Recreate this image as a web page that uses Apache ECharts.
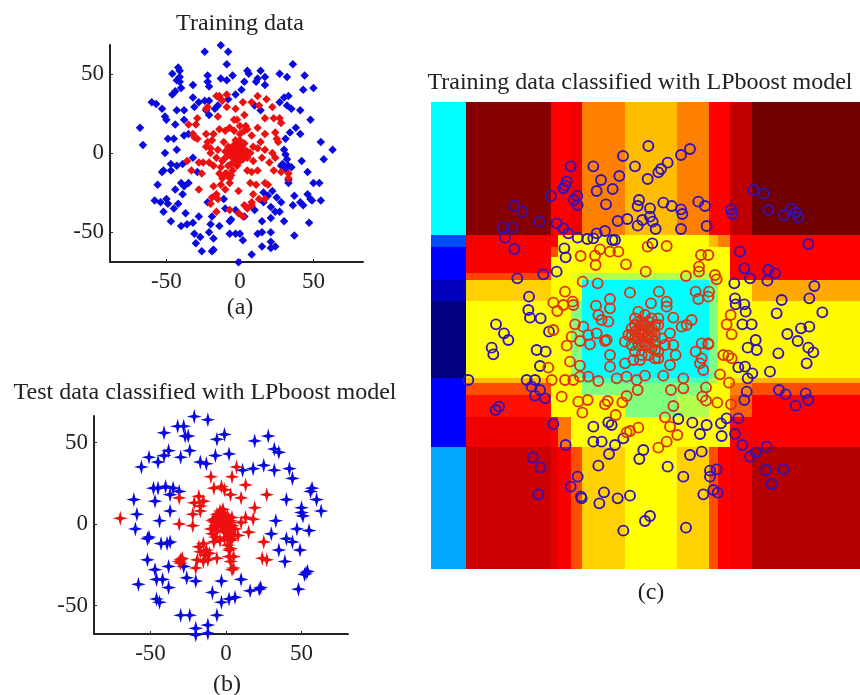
<!DOCTYPE html>
<html><head><meta charset="utf-8">
<style>html,body{margin:0;padding:0;background:#fff}#c{width:860px;height:695px;filter:blur(0.45px)}</style>
<script src="https://cdn.jsdelivr.net/npm/echarts@6/dist/echarts.min.js"></script>
</head><body><div id="c"></div>
<script>
const tickValues=[-50,0,50];
const aBlue=[[-13,68],[-24,64],[-8,64],[-9,56],[-1,-69],[36,56],[44,49],[50,41],[43,40],[32,48],[27,50],[5,52],[6,50],[14,52],[12,47],[11,45],[17,48],[17,43],[3,45],[1,40],[-5,49],[-9,46],[-13,47],[-22,49],[-22,45],[-21,42],[-32,43],[-42,54],[-41,52],[-46,50],[-41,48],[-43,46],[-41,45],[-40,41],[-44,39],[-46,37],[-3,37],[-32,35],[-60,32],[-57,31],[-53,28],[-31,29],[-28,32],[-24,33],[-21,33],[-23,27],[-15,30],[-17,28],[-14,35],[-8,34],[-43,27],[-38,27],[-51,23],[-50,21],[-44,18],[-38,21],[-21,24],[-68,16],[-66,5],[-49,9],[-45,9],[-38,11],[-35,12],[-51,0],[-43,2],[-32,-3],[-47,-7],[-43,-8],[-39,-7],[-52,-11],[-53,-12],[-47,-11],[-29,-12],[-56,-20],[-40,-19],[-35,-19],[-38,-21],[-44,-23],[-39,-26],[-58,-30],[-54,-31],[-50,-29],[-49,-32],[-42,-32],[-52,-37],[-45,-35],[-37,-38],[-47,-43],[-40,-46],[-36,-45],[-32,-44],[-28,-40],[-19,-40],[-22,-31],[-20,-45],[-14,-46],[-7,-43],[-6,-42],[-31,-51],[-27,-53],[-30,-57],[-21,-50],[-18,-54],[-26,-62],[-19,-62],[-18,-61],[-7,-51],[-3,-51],[0,-51],[2,-55],[-11,-29],[-10,-35],[-3,-36],[3,-40],[10,-36],[12,-51],[15,-50],[15,-59],[8,-64],[21,-56],[21,-60],[24,-59],[21,-50],[15,-43],[21,-41],[30,-43],[37,-52],[47,-44],[36,-33],[37,-27],[41,-31],[43,-33],[46,-26],[48,-29],[49,-30],[55,-30],[50,-19],[54,-19],[46,-12],[42,-5],[57,-4],[63,2],[55,7],[48,21],[41,12],[38,16],[34,13],[31,9],[41,27],[35,28],[33,36],[30,35],[27,32],[32,30],[14,27],[10,30],[22,-24],[16,-25],[19,-27],[25,-28],[28,-31],[21,-34],[24,-37],[27,-37],[16,-31],[33,-19],[33,-17],[30,2],[31,-1],[32,-4],[29,-7],[28,-8],[33,-8],[35,-9],[31,-10]];
const aRed=[[-14,36],[-16,36],[-9,37],[-12,33],[-22,29],[-23,28],[-9,29],[-3,28],[2,32],[8,32],[12,36],[18,34],[13,30],[22,29],[17,22],[23,22],[27,22],[28,19],[-29,22],[-35,18],[-30,18],[-15,23],[-4,21],[3,24],[-2,21],[4,17],[-10,14],[-4,14],[0,17],[3,14],[5,15],[0,12],[-7,16],[8,11],[12,16],[17,12],[24,13],[25,9],[26,7],[-32,12],[-31,10],[-29,9],[-23,12],[-22,7],[-18,12],[-14,15],[-19,8],[-11,7],[-23,4],[-20,3],[-15,2],[-20,0],[-16,-3],[14,7],[9,4],[17,2],[-8,4],[-6,1],[-4,5],[-2,3],[0,1],[1,-1],[3,2],[-1,-3],[-3,-4],[-5,-3],[-2,-6],[0,-5],[2,-4],[4,-2],[5,1],[-4,-1],[-1,5],[1,4],[-7,-1],[-9,-2],[-10,1],[3,6],[0,8],[-3,8],[7,0],[-2,-8],[-6,-7],[-3,1],[-1,1],[1,2],[-2,-1],[-5,2],[-7,3],[-4,-6],[-36,-5],[-28,-6],[-33,-11],[-25,-6],[-21,-6],[-26,-13],[-13,-9],[-18,-8],[-9,-13],[-7,-16],[-7,-19],[-10,-13],[-5,-11],[-2,-7],[5,-3],[9,-5],[15,-3],[20,-6],[5,-11],[8,-12],[12,-11],[24,-3],[22,0],[23,-11],[28,-12],[33,-13],[33,-16],[-28,-23],[-18,-21],[-13,-20],[-10,-23],[-16,-26],[-19,-28],[-15,-29],[-20,-32],[-16,-37],[-7,-36],[-1,-24],[7,-19],[11,-20],[17,-19],[19,-20],[9,-26],[8,-31],[13,-29],[17,-29],[8,-33],[3,-33],[5,-35],[-1,-38],[2,-40],[-12,-5],[-8,-8],[-6,-14],[-12,-16],[12,3],[-11,-4],[-14,-13]];
const bBlue=[[-21,66],[-12,64],[-32,60],[-28,60],[-41,56],[-27,54],[-25,54],[-6,52],[-1,55],[19,51],[28,54],[32,46],[35,44],[-24,45],[-38,45],[-41,42],[-51,41],[-45,38],[-56,35],[-30,41],[-17,38],[-13,37],[-7,42],[2,43],[11,33],[18,34],[25,36],[32,33],[42,34],[44,28],[57,22],[56,20],[60,15],[63,8],[40,15],[50,10],[50,7],[51,5],[33,2],[47,-3],[55,-4],[30,-6],[40,-9],[44,-11],[35,-16],[49,-16],[39,-23],[53,-30],[52,-31],[54,-29],[48,-40],[23,-39],[22,-40],[16,-41],[10,-34],[6,-45],[2,-46],[-3,-48],[-9,-42],[-3,-35],[-6,-56],[-12,-62],[-12,-67],[-20,-64],[-20,-68],[-24,-56],[-30,-56],[-44,-48],[-46,-46],[-38,-39],[-42,-34],[-46,-34],[-58,-37],[-26,-33],[-20,-35],[-47,-28],[-52,-22],[-38,-26],[-28,-26],[-51,-8],[-52,-9],[-43,-12],[-39,-12],[-37,-11],[-60,-3],[-59,6],[-44,2],[-37,8],[-61,15],[-47,14],[-48,22],[-45,22],[-40,23],[-35,22],[-31,20],[-37,18]];
const bRed=[[-70,3.5],[7,35],[4,29],[-10,29],[13,24],[-8,22],[-3,23],[-1,21],[3,18],[10,16],[27,18],[-31,16],[-18,17],[-21,13],[-15,14],[-17,8],[-22,6],[-22,-1],[-31,0],[19,10],[18,3],[13,4],[10,1],[15,-5],[25,-11],[24,-21],[27,-22],[-8,3],[-6,6],[-4,8],[-2,5],[0,3],[2,1],[-5,1],[-3,-1],[-1,0],[1,-2],[3,-3],[-7,-1],[-9,2],[4,4],[-2,9],[-1,-5],[2,-6],[5,-7],[-9,-6],[-7,-8],[-4,-10],[3,-10],[1,-13],[8,-7],[-30,-22],[-31,-23],[-29,-21],[-30,-24],[-15,-12],[-17,-17],[-13,-16],[-12,-22],[-6,-21],[-20,-27],[-15,-23],[2,-16],[5,-20],[3,-23],[4,-28],[5,-27],[-17,11],[-14,-19],[2,-20],[-4,4],[-1,6],[1,5],[3,2],[-6,-2],[-3,2],[0,-3],[-2,-2],[2,-4],[4,-1],[-5,4],[-7,1],[-3,7],[0,1],[-10,-3],[-6,-4],[6,-3],[4,-9],[-1,-9],[-8,-11],[1,-8],[3,-15],[-18,-14],[-11,-18],[-19,-22]];
const cBlue=[[1,56.7],[13.5,55.8],[10.8,54],[-6.6,53.7],[-3,50.6],[-15.5,50.6],[-22.3,50.6],[6.8,51.7],[4.8,49.8],[4,48.8],[0.8,46.8],[-7.7,47.7],[-13.2,46.5],[-14.5,43.2],[-9.7,43.8],[-23.5,46],[-24,44.8],[-24.5,44],[-28.2,41.7],[-20.3,41.7],[-21.3,40.5],[-20.2,39],[-11.7,39.2],[-39.2,38.8],[-36.8,37],[-31.7,34],[-42.7,32.2],[-39.7,32.2],[-42,29.2],[-39.2,25.8],[-26.5,33.5],[-24.5,32],[-23,30.5],[-20.2,29.2],[-17.3,28.8],[-15.5,29],[-14.5,30.5],[-12,31.2],[-9.8,28.5],[-9,28.5],[-8.2,34.2],[-5.3,34.8],[-2.2,32.8],[-0.8,34.5],[-1.8,40.5],[-2.2,38.7],[1.5,38],[1.5,35.5],[2.3,34],[3.2,31.8],[5.5,39.7],[8,38.7],[10.8,37.7],[11.2,36.3],[10.8,31.8],[16,40],[18,38.7],[18.5,32.7],[25.8,37.7],[26.2,36.3],[32.5,43.5],[35.7,42.4],[37,37.5],[41.7,36],[43.8,38],[45.2,36.8],[46,35.3],[49,27.3],[28.5,25],[2.2,27.5],[-24.2,26],[-23.8,23.3],[-26.5,19],[-30.5,18.2],[-38.3,17],[29.8,20],[31.5,17],[37,19.5],[39,18.5],[36.7,16.3],[26.8,15.5],[50.8,14.7],[49.3,11],[41,10.5],[39.5,6.5],[53.2,6.8],[27,11],[27.2,9.2],[29.8,9.2],[30.2,7],[29.2,3.2],[32,3.2],[33.2,-1.5],[-34.8,11.5],[-35,7.5],[-34.5,5.2],[-31.3,5],[-44.7,3.2],[-42.3,0.5],[-41,-1.5],[-28.8,1],[42.7,0.3],[46.8,2],[49.3,2.5],[45.8,-1.8],[-46,-3.8],[-45.5,-5.8],[-32.5,-4.5],[-29.8,-5],[-31.5,-9.3],[-35.5,-13.5],[-33,-13.5],[-34,-15.5],[-31.5,-16.5],[-33,-18.2],[-30,-19],[-53,-13.5],[-44.8,-22.5],[-43.8,-21.5],[-27.5,-26.7],[-23.8,-33],[-15.5,-27.5],[-15.5,-32],[-13,-32],[-11,-26.2],[-10,-27],[-9,-33],[-6.5,-31],[-10.8,-35.7],[-14,-39.2],[-0.5,-34.5],[-1.7,-37.2],[6.8,-39.5],[11.5,-42.5],[13.5,-36],[17,-35],[10,-25.2],[14.2,-26.3],[18.5,-27],[16.5,-29.7],[22.8,-26.5],[23,-30.3],[24.5,-25],[28,-25],[27,-29.7],[29.2,-33],[31.5,-36.5],[33.2,-35.2],[36.5,-33.5],[36.3,-40.5],[41.5,-40.3],[38,-44.7],[19.5,-40.7],[21.5,-40.3],[19.5,-42.5],[20.5,-46.5],[21.8,-47.3],[17.5,-47.8],[-33.7,-36.8],[-31.3,-39.7],[-32,-47.8],[-20.2,-42.5],[-22.3,-45.5],[-19.2,-48.5],[-19,-49],[-13.7,-50.5],[-12.3,-47.2],[-8.2,-49],[-4.5,-48.2],[0,-55.8],[1.5,-54.3],[-6.5,-58.7],[12.3,-57.8],[30.8,-3.8],[33.5,-4.5],[30,-9.5],[32.2,-11.5],[30.8,-13],[30.5,-17],[29.8,-19.5],[37.5,-11],[40,-5.5],[49,-3.8],[50.5,-5.2],[48.5,-8.5],[40.2,-16.5],[42.2,-17.8],[48.2,-17.5],[49,-19.5],[45.2,-21.2],[28,-9.7]];
const cRed=[[6.5,26.7],[0.8,26.5],[-13.5,25.7],[-10.5,25],[-8,25],[-19.3,23.7],[-15,23.8],[-14.8,21],[-5.7,21.2],[0.2,19],[16.8,24],[19,24],[16.2,20.5],[16.2,19],[12.3,17.7],[21,18],[21.5,16.7],[-18.7,16],[-14.2,15.5],[-4.5,12.7],[4.2,13],[-24,13],[-27.5,9.7],[-24.5,9],[-26.3,7.2],[-21.7,10],[-21.5,9],[-10.5,10.8],[-14.7,8.8],[-10.5,8],[15.2,13],[19.2,13],[16,10.8],[19,11.5],[6.5,10],[6.5,8.5],[1.8,9.5],[-14,6],[-11,4],[-13,4.5],[25.7,6],[24.5,3.2],[26,0.2],[-27.5,1.5],[-21,3.2],[-18.5,2.5],[-22,-0.5],[-17,0],[-14.5,0.5],[-11.5,-1.5],[8.5,5.2],[4,5],[7.5,0.5],[11,2.5],[14,4.5],[12.5,3],[19,-2.5],[17,-2.5],[-4,2],[-3,5],[-2,7],[0,6],[1,4],[2,2],[3,0],[-1,3],[-5,0],[-3,-1],[-1,0],[1,-1],[3,-2],[5,-1],[-2,-3],[0,-3],[2,-4],[-4,-3],[-6,-2],[4,-5],[6,-3],[-1,-6],[1,-6],[3,-7],[-3,-5],[0,1],[-1,4],[-2,1],[1,2],[2,5],[4,3],[-3,3],[-1,2],[1,0],[0,-2],[-2,-1],[2,1],[-4,0],[3,3],[-1,-2],[1,-3],[-3,1],[0,3],[2,-1],[-2,4],[-23.5,-3.2],[-19.5,-1.8],[-16.5,-2.8],[-12,-1.8],[-22.5,-8],[-19.5,-9.2],[-10.5,-6],[-10.5,-9.5],[-6,-8.5],[-3.5,-7.5],[-1.5,-7.5],[3,-4.5],[4,-7],[7.5,-9],[8.5,-3],[9.2,-6],[15.2,-5],[19,-2.8],[17,-7],[16.5,-8.5],[17.5,-10.5],[0,-12.2],[-2.5,-13.5],[-5.5,-12.5],[-8.5,-13],[-14,-13.8],[-17,-12.5],[-19.5,-12.5],[-21.5,-13.5],[-24,-13.5],[-28,-13.5],[-29,-9.8],[-25,-18.5],[-20,-20],[-17.2,-19.5],[-18.8,-23.3],[-12,-20.8],[-11.2,-19.8],[-6.8,-20.2],[-5.5,-18.3],[-2.2,-16.5],[5.5,-12.2],[7.8,-16.5],[11.5,-13],[11.5,-16],[18.3,-15.7],[17.2,-18.5],[18.3,-19.7],[21.7,-20.3],[22.5,-11.8],[25.2,-14.3],[25.8,-20.8],[23.5,-6],[25,-6.2],[26,-7],[8.5,-21.3],[6,-24.7],[7.5,-27.5],[9.7,-30],[6.5,-32],[4,-33.8],[-8.8,-24],[-2,-27.8],[-4.5,-28.8],[-5.5,-29.2]];
const xEdges=[-64.2,-53.8,-28.2,-26,-22.2,-18.8,-6,9.5,19.2,21.8,25.5,32,64.5];
const yEdges=[69.9,30,26.5,23.5,18.5,16.5,10.2,-12.8,-14.5,-18,-24.5,-33.7,-70.2];
const heatLevels=[
[.375,.98,.875,.875,.89,.75,.69,.75,.875,.875,.93,1],
[.2,.88,.875,.625,.625,.625,.625,.625,.69,.75,.875,.875],
[.125,.88,.8,.625,.625,.625,.625,.625,.625,.625,.875,.875],
[.125,.88,.625,.625,.625,.625,.625,.625,.625,.625,.875,.875],
[.125,.81,.625,.625,.6,.55,.55,.55,.625,.625,.875,.875],
[.06,.67,.625,.625,.625,.375,.375,.375,.5,.625,.625,.71],
[0,.625,.625,.625,.5,.375,.375,.375,.5,.625,.625,.63],
[.125,.69,.625,.625,.625,.45,.45,.45,.55,.625,.66,.7],
[.125,.8,.625,.625,.625,.5,.5,.5,.625,.625,.75,.8],
[.125,.86,.625,.625,.625,.625,.5,.55,.625,.625,.78,.875],
[.125,.89,.875,.76,.625,.625,.625,.625,.625,.625,.875,.875],
[.29,.92,.9,.88,.8,.67,.625,.67,.8,.875,.885,.94]];
const jet=['#000080','#0000ff','#0080ff','#00ffff','#80ff80','#ffff00','#ff8000','#ff0000','#700000'];
const serif='"Liberation Serif","Times New Roman",serif', ink='#222';
const star='path://M0,-8 L1.7,-1.7 L8,0 L1.7,1.7 L0,8 L-1.7,1.7 L-8,0 L-1.7,-1.7 Z';
const cells=[];
heatLevels.forEach((row,r)=>row.forEach((lv,c)=>cells.push([xEdges[c],xEdges[c+1],yEdges[r],yEdges[r+1],lv])));
function xAxis(i,min,max,show){return {gridIndex:i,type:'value',min,max,show,splitLine:{show:false},
 axisLine:{onZero:false,lineStyle:{color:ink,width:2}},axisTick:{inside:true,length:3,customValues:tickValues,lineStyle:{color:ink}},
 axisLabel:{customValues:tickValues,color:ink,fontFamily:serif,fontSize:23,margin:8}};}
function yAxis(i,min,max,show){const a=xAxis(i,min,max,show);a.axisLabel.margin=6;return a;}
function scatter(i,data,color,symbol,size){return {type:'scatter',xAxisIndex:i,yAxisIndex:i,data,symbol,symbolSize:size,clip:false,silent:true,animation:false,itemStyle:{color,opacity:1}};}
function ring(data,color){return {type:'scatter',xAxisIndex:2,yAxisIndex:2,data,symbol:'circle',symbolSize:10,clip:true,silent:true,animation:false,z:3,itemStyle:{color:'rgba(0,0,0,0)',borderColor:color,borderWidth:1.9,opacity:1}};}
function label(text,x,y){return {text,left:x,top:y,textAlign:'center',textVerticalAlign:'middle',padding:0,textStyle:{fontFamily:serif,fontWeight:'normal',fontSize:24,color:ink}};}
const chart=echarts.init(document.getElementById('c'),null,{renderer:'canvas'});
chart.setOption({animation:false,backgroundColor:'#fff',
 title:[label('Training data',240,24),label('(a)',240,308),label('Test data classified with LPboost model',205,393),label('(b)',227,685),label('Training data classified with LPboost model',640,83),label('(c)',651,593)],
 grid:[{left:110,top:45,width:253,height:217},{left:94,top:416,width:254,height:218},{left:431,top:102,width:429,height:467}],
 xAxis:[xAxis(0,-88.4,83.7,true),xAxis(1,-87.4,80.8,true),xAxis(2,-64.2,64.5,false)],
 yAxis:[yAxis(0,-68.8,68.2,true),yAxis(1,-67.5,66.3,true),yAxis(2,-70.2,69.9,false)],
 series:[
  scatter(0,aBlue,'#0a0ae0','diamond',8.5),scatter(0,aRed,'#ee1010','diamond',8.5),
  scatter(1,bBlue,'#0a0ae0',star,[15,15]),scatter(1,bRed,'#ee1010',star,[15,15]),
  {type:'custom',xAxisIndex:2,yAxisIndex:2,data:cells,silent:true,animation:false,z:1,clip:true,encode:{x:[0,1],y:[2,3]},
   renderItem(p,api){const a=api.coord([api.value(0),api.value(2)]),b=api.coord([api.value(1),api.value(3)]);
    const x0=Math.round(a[0]),y0=Math.round(a[1]),x1=Math.round(b[0]),y1=Math.round(b[1]);
    return {type:'rect',shape:{x:x0,y:y0,width:x1-x0,height:y1-y0},style:{fill:echarts.color.lerp(api.value(4),jet)}};}},
  ring(cBlue,'#3412b8'),ring(cRed,'#de3414')
 ]});
</script></body></html>
